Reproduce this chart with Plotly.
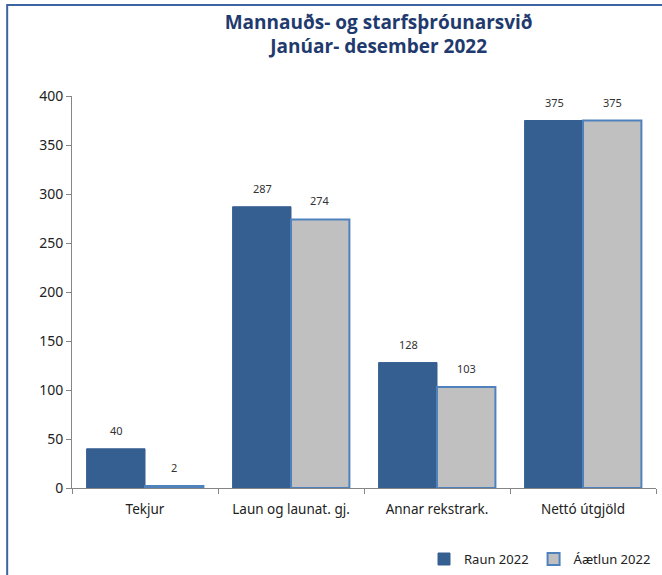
import plotly.graph_objects as go

categories = ["Tekjur", "Laun og launat. gj.", "Annar rekstrark.", "Nettó útgjöld"]
raun_2022 = [40, 287, 128, 375]
aetlun_2022 = [2, 274, 103, 375]
y_ticks = [0, 50, 100, 150, 200, 250, 300, 350, 400]

fig = go.Figure()
fig.add_trace(go.Bar(
    name="Raun 2022", x=categories, y=raun_2022,
    marker=dict(color="#365F91", line=dict(color="#365F91", width=1)),
    offsetgroup="raun",
))
fig.add_trace(go.Bar(
    name="Áætlun 2022", x=categories, y=aetlun_2022,
    marker=dict(color="#C0C0C0", line=dict(color="#4F81BD", width=2)),
    offsetgroup="aetlun",
))

annotations = []
for series, shift in ((raun_2022, -29), (aetlun_2022, 29)):
    for cat, val in zip(categories, series):
        annotations.append(dict(
            x=cat, y=val, xref="x", yref="y", text=str(val), showarrow=False,
            xanchor="center", yanchor="bottom", xshift=shift, yshift=9,
            font=dict(family="Noto Sans", size=11, color="#333333"),
        ))

fig.update_layout(
    width=662, height=575,
    margin=dict(l=72, r=6, t=96, b=87, autoexpand=False),
    paper_bgcolor="white", plot_bgcolor="white",
    barmode="group", bargap=0.2, bargroupgap=0,
    font=dict(family="Noto Sans", size=13, color="#222222"),
    title=dict(
        text="<b>Mannauðs- og starfsþróunarsvið<br>Janúar- desember 2022</b>",
        x=0.572, xanchor="center", y=0.95, yanchor="top",
        font=dict(family="Open Sans", size=19, color="#1F3A6E"),
    ),
    showlegend=True,
    legend=dict(orientation="h", x=1.0, xanchor="right", y=-0.143, yanchor="top",
                font=dict(size=13, color="#222222"), traceorder="normal",
                itemwidth=30),
    annotations=annotations,
    shapes=[dict(type="rect", xref="paper", yref="paper",
                 x0=-0.111, x1=1.03, y0=-0.25, y1=1.232,
                 line=dict(color="#3C64A0", width=2), layer="below")],
)
fig.update_xaxes(
    showline=True, linecolor="#868686", linewidth=1,
    ticks="outside", tickson="boundaries", ticklen=5, tickcolor="#868686",
    tickfont=dict(size=13.5, color="#222222"), ticklabelstandoff=9,
)
fig.update_yaxes(
    range=[0, 400], tickvals=y_ticks, showgrid=False, zeroline=False,
    showline=True, linecolor="#868686", linewidth=1,
    ticks="outside", ticklen=5, tickcolor="#868686",
    tickfont=dict(size=14, color="#222222"),
)
fig.write_html("out.html", config={"displayModeBar": False},
               post_script="document.body.style.margin='0';")
